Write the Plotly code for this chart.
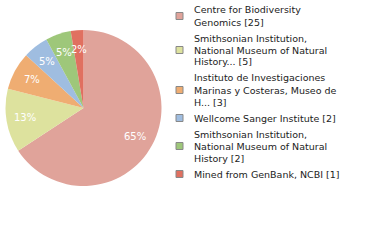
import math
import plotly.graph_objects as go

labels = [
    "Centre for Biodiversity Genomics",
    "Smithsonian Institution, National Museum of Natural History...",
    "Instituto de Investigaciones Marinas y Costeras, Museo de H...",
    "Wellcome Sanger Institute",
    "Smithsonian Institution, National Museum of Natural History",
    "Mined from GenBank, NCBI",
]
legend_lines = [
    ["Centre for Biodiversity", "Genomics [25]"],
    ["Smithsonian Institution,", "National Museum of Natural", "History... [5]"],
    ["Instituto de Investigaciones", "Marinas y Costeras, Museo de", "H... [3]"],
    ["Wellcome Sanger Institute [2]"],
    ["Smithsonian Institution,", "National Museum of Natural", "History [2]"],
    ["Mined from GenBank, NCBI [1]"],
]
values = [25, 5, 3, 2, 2, 1]
colors = ["#e0a39a", "#dde29e", "#efad72", "#9fbde0", "#9ec77a", "#e07060"]

W, H = 380, 240
total = sum(values)
pct_text = [f"{int(v * 100 / total)}%" for v in values]

# pie placement (pixels)
px0, px1, py0, py1 = 5, 162, 30, 186
cx, cy = (px0 + px1) / 2, (py0 + py1) / 2
R = (px1 - px0) / 2

fig = go.Figure()
fig.add_trace(go.Pie(
    labels=labels,
    values=values,
    textinfo="none",
    marker=dict(colors=colors, line=dict(width=0)),
    sort=False,
    direction="clockwise",
    rotation=0,
    showlegend=False,
    hoverinfo="label+value",
    domain=dict(x=[px0 / W, px1 / W], y=[1 - py1 / H, 1 - py0 / H]),
))

annotations = []
shapes = []

# percentage labels at 0.75 radius along slice mid-angle
cum = 0
for v, t in zip(values, pct_text):
    mid = (cum + v / 2) / total * 2 * math.pi
    cum += v
    r = 0.75 * R
    lx = cx + r * math.sin(mid)
    ly = cy - r * math.cos(mid)
    annotations.append(dict(
        x=lx / W, y=1 - ly / H, xref="paper", yref="paper", text=t,
        showarrow=False, xanchor="center", yanchor="middle",
        font=dict(size=10, color="white", family="DejaVu Sans"),
    ))

# manual legend
line_h = 12
entry_gap = 4
y = 10
for i, lines in enumerate(legend_lines):
    first = y
    for ln in lines:
        annotations.append(dict(
            x=192 / W, y=1 - y / H, xref="paper", yref="paper",
            text=ln, showarrow=False, xanchor="left", yanchor="middle",
            font=dict(size=9.5, color="#222", family="DejaVu Sans"),
        ))
        y += line_h
    last = y - line_h
    my = (first + last) / 2
    shapes.append(dict(
        type="rect", xref="paper", yref="paper",
        x0=176 / W, x1=183 / W, y0=1 - (my - 3.5) / H, y1=1 - (my + 3.5) / H,
        fillcolor=colors[i], line=dict(color="#888", width=1),
    ))
    y += entry_gap

fig.update_layout(
    width=W, height=H,
    margin=dict(l=0, r=0, t=0, b=0),
    paper_bgcolor="white", plot_bgcolor="white",
    shapes=shapes, annotations=annotations,
)
fig.write_html("out.html")
